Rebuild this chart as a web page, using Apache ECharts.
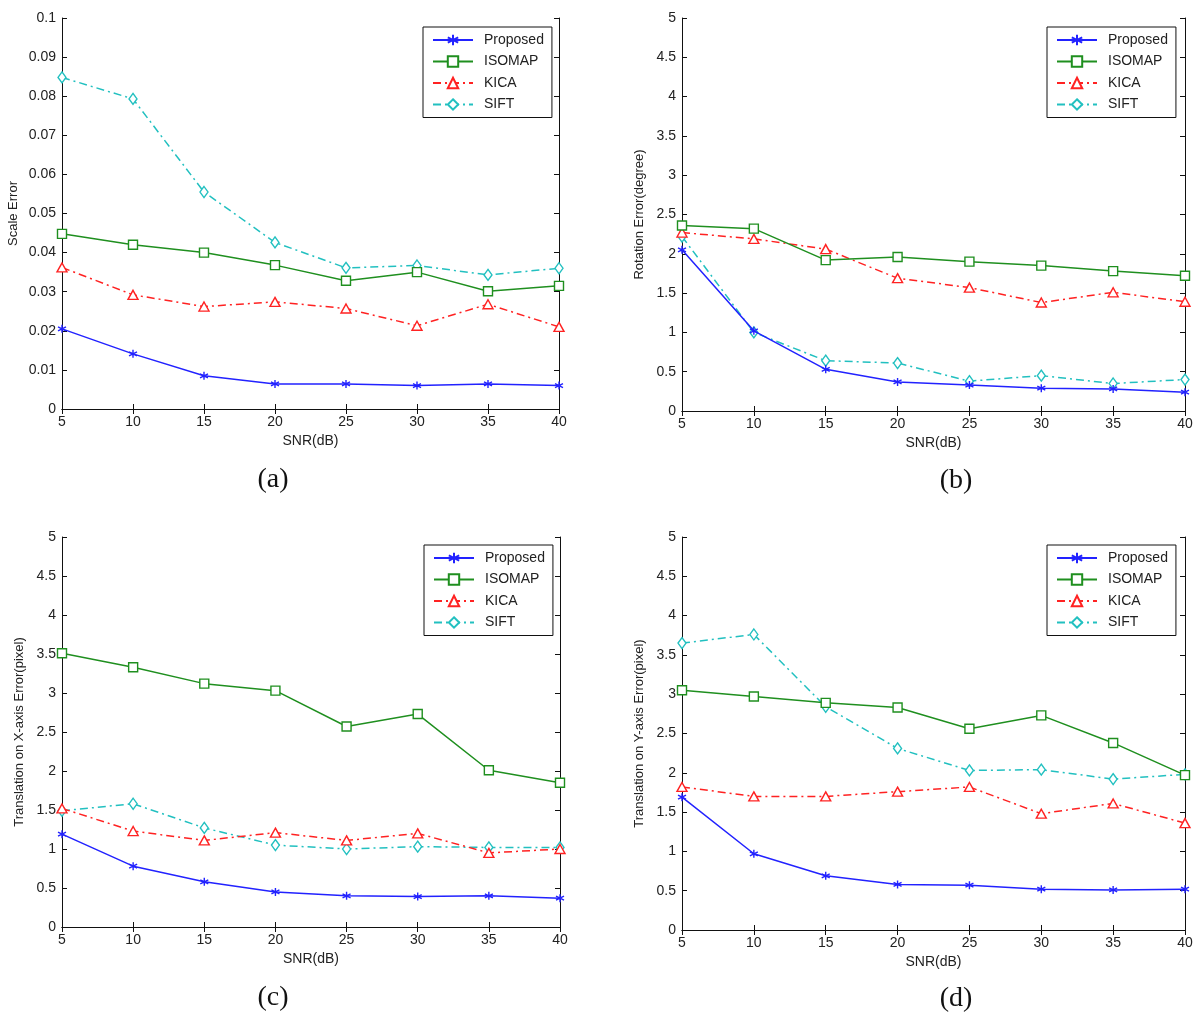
<!DOCTYPE html>
<html>
<head>
<meta charset="utf-8">
<script src="https://cdn.jsdelivr.net/npm/echarts@6/dist/echarts.min.js"></script>
<style>
html,body{margin:0;padding:0;background:#fff;}
#chart{width:1200px;height:1023px;}
</style>
</head>
<body>
<div id="chart"></div>
<script>
// ---- Data ----
const snr = [5, 10, 15, 20, 25, 30, 35, 40];
const methods = ['Proposed', 'ISOMAP', 'KICA', 'SIFT'];

// (a) Scale Error
const scaleProposed = [0.0205, 0.0141, 0.0085, 0.0064, 0.0064, 0.0060, 0.0064, 0.0060];
const scaleIsomap   = [0.0448, 0.0420, 0.0400, 0.0368, 0.0328, 0.0350, 0.0301, 0.0315];
const scaleKica     = [0.0362, 0.0292, 0.0262, 0.0274, 0.0257, 0.0213, 0.0268, 0.0210];
const scaleSift     = [0.0848, 0.0793, 0.0555, 0.0426, 0.0361, 0.0367, 0.0343, 0.0360];

// (b) Rotation Error (degree)
const rotProposed = [2.05, 1.02, 0.53, 0.37, 0.33, 0.29, 0.28, 0.24];
const rotIsomap   = [2.36, 2.32, 1.92, 1.96, 1.90, 1.85, 1.78, 1.72];
const rotKica     = [2.27, 2.19, 2.06, 1.69, 1.57, 1.38, 1.51, 1.39];
const rotSift     = [2.22, 1.00, 0.64, 0.61, 0.38, 0.45, 0.35, 0.40];

// (c) Translation on X-axis Error (pixel)
const txProposed = [1.19, 0.78, 0.58, 0.45, 0.40, 0.39, 0.40, 0.37];
const txIsomap   = [3.51, 3.33, 3.12, 3.03, 2.57, 2.73, 2.01, 1.85];
const txKica     = [1.52, 1.23, 1.11, 1.21, 1.11, 1.20, 0.95, 1.00];
const txSift     = [1.49, 1.58, 1.27, 1.05, 1.00, 1.03, 1.02, 1.02];

// (d) Translation on Y-axis Error (pixel)
const tyProposed = [1.69, 0.97, 0.69, 0.58, 0.57, 0.52, 0.51, 0.52];
const tyIsomap   = [3.05, 2.97, 2.89, 2.83, 2.56, 2.73, 2.38, 1.97];
const tyKica     = [1.82, 1.70, 1.70, 1.76, 1.82, 1.48, 1.61, 1.36];
const tySift     = [3.65, 3.76, 2.84, 2.31, 2.03, 2.04, 1.92, 1.98];

const yTitles = ['Scale Error', 'Rotation Error(degree)', 'Translation on X-axis Error(pixel)', 'Translation on Y-axis Error(pixel)'];
const xTitle = 'SNR(dB)';
const captions = ['(a)', '(b)', '(c)', '(d)'];

// ---- Layout / style ----
const panels = [
  { rect: {left: 62, top: 18, width: 497, height: 391}, max: 0.1, interval: 0.01, yGap: 42, legend: {left: 423, top: 27}, cap: [273, 480],
    data: [scaleProposed, scaleIsomap, scaleKica, scaleSift] },
  { rect: {left: 682, top: 18, width: 503, height: 393}, max: 5, interval: 0.5, yGap: 36, legend: {left: 1047, top: 27}, cap: [956, 481],
    data: [rotProposed, rotIsomap, rotKica, rotSift] },
  { rect: {left: 62, top: 537, width: 498, height: 390}, max: 5, interval: 0.5, yGap: 36, legend: {left: 424, top: 545}, cap: [273, 998],
    data: [txProposed, txIsomap, txKica, txSift] },
  { rect: {left: 682, top: 537, width: 503, height: 393}, max: 5, interval: 0.5, yGap: 36, legend: {left: 1047, top: 545}, cap: [956, 999],
    data: [tyProposed, tyIsomap, tyKica, tySift] }
];

const FONT = 'Liberation Sans, Arial, sans-serif';
const dashDot = [8, 4, 2, 4];
const styles = [
  { color: '#2222ff', type: 'solid', symbol: 'path://M5,0L5,10M0.7,2.5L9.3,7.5M0.7,7.5L9.3,2.5', size: 8, fill: '#2222ff' },
  { color: '#1f8f1f', type: 'solid', symbol: 'rect', size: 9, fill: '#ffffff' },
  { color: '#ff2222', type: dashDot, symbol: 'triangle', size: [10, 9], fill: '#ffffff' },
  { color: '#22c0c0', type: dashDot, symbol: 'diamond', size: [8, 11], fill: '#ffffff' }
];

const grid = [], xAxis = [], yAxis = [], series = [], legend = [], graphic = [];
const axisLineStyle = { lineStyle: { color: '#111', width: 1 } };
const tickStyle = { show: true, inside: true, length: 5, lineStyle: { color: '#111', width: 1 } };

panels.forEach((p, i) => {
  grid.push(Object.assign({ show: false }, p.rect));
  // bottom x axis
  xAxis.push({
    gridIndex: i, type: 'value', min: 5, max: 40, interval: 5, position: 'bottom',
    axisLine: axisLineStyle, axisTick: tickStyle, splitLine: { show: false },
    axisLabel: { color: '#222', fontSize: 14, fontFamily: FONT, margin: 6 },
    name: xTitle, nameLocation: 'middle', nameGap: 25,
    nameTextStyle: { color: '#222', fontSize: 14, fontFamily: FONT }
  });
  // top x axis (box)
  xAxis.push({
    gridIndex: i, type: 'value', min: 5, max: 40, interval: 5, position: 'top',
    axisLine: axisLineStyle, axisTick: tickStyle, splitLine: { show: false },
    axisLabel: { show: false }
  });
  // left y axis
  yAxis.push({
    gridIndex: i, type: 'value', min: 0, max: p.max, interval: p.interval, position: 'left',
    axisLine: Object.assign({ show: true }, axisLineStyle), axisTick: tickStyle, splitLine: { show: false },
    axisLabel: { color: '#222', fontSize: 14, fontFamily: FONT, margin: 6 },
    name: yTitles[i], nameLocation: 'middle', nameGap: p.yGap,
    nameTextStyle: { color: '#222', fontSize: 13, fontFamily: FONT }
  });
  // right y axis (box)
  yAxis.push({
    gridIndex: i, type: 'value', min: 0, max: p.max, interval: p.interval, position: 'right',
    axisLine: Object.assign({ show: true }, axisLineStyle), axisTick: tickStyle, splitLine: { show: false },
    axisLabel: { show: false }
  });

  methods.forEach((m, k) => {
    const s = styles[k];
    series.push({
      name: m, type: 'line', xAxisIndex: 2 * i, yAxisIndex: 2 * i,
      data: snr.map((x, j) => [x, p.data[k][j]]),
      symbol: s.symbol, symbolSize: s.size, showSymbol: true,
      lineStyle: { color: s.color, width: 1.5, type: s.type },
      itemStyle: { color: s.fill, borderColor: s.color, borderWidth: 1.4 },
      z: 2 + (3 - k), animation: false
    });
  });

  legend.push({
    left: p.legend.left, top: p.legend.top, orient: 'vertical',
    data: methods, selectedMode: false,
    backgroundColor: '#fff', borderColor: '#111', borderWidth: 1,
    padding: [6, 8, 6, 9], itemWidth: 40, itemHeight: 13, itemGap: 7.5,
    textStyle: { color: '#222', fontSize: 14, fontFamily: FONT, padding: [0, 0, 0, 6] }
  });

  graphic.push({
    type: 'text', x: p.cap[0], y: p.cap[1],
    style: { text: captions[i], font: '28px "Liberation Serif", "Times New Roman", serif', fill: '#111', textAlign: 'center', textVerticalAlign: 'middle' }
  });
});

const chart = echarts.init(document.getElementById('chart'), null, { renderer: 'canvas' });
chart.setOption({
  backgroundColor: '#fff',
  animation: false,
  grid, xAxis, yAxis, series, legend, graphic
});
</script>
</body>
</html>
